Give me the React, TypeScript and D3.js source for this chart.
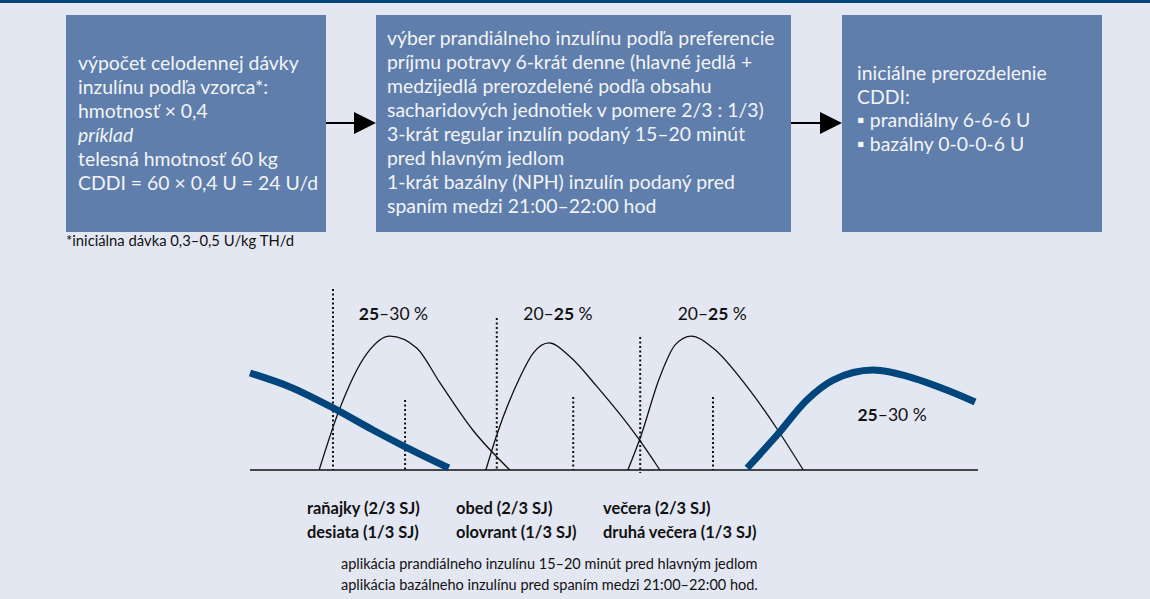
import React from "react";
import * as d3 from "d3";

// ---- data ----
const box1Lines = [
  { t: "výpočet celodennej dávky", i: false },
  { t: "inzulínu podľa vzorca*:", i: false },
  { t: "hmotnosť × 0,4", i: false },
  { t: "príklad", i: true },
  { t: "telesná hmotnosť 60 kg", i: false },
  { t: "CDDI = 60 × 0,4 U = 24 U/d", i: false },
];
const box2Lines = [
  "výber prandiálneho inzulínu podľa preferencie",
  "príjmu potravy 6-krát denne (hlavné jedlá +",
  "medzijedlá prerozdelené podľa obsahu",
  "sacharidových jednotiek v pomere 2/3 : 1/3)",
  "3-krát regular inzulín podaný 15–20 minút",
  "pred hlavným jedlom",
  "1-krát bazálny (NPH) inzulín podaný pred",
  "spaním medzi 21:00–22:00 hod",
];
const box3Lines = ["iniciálne prerozdelenie", "CDDI:", "▪ prandiálny 6-6-6 U", "▪ bazálny 0-0-0-6 U"];
const footnote = "*iniciálna dávka 0,3–0,5 U/kg TH/d";

// prandial insulin action curves (x: time units 0-100, y: effect 0-100)
const prandial1: [number, number][] = [[9.5, 0], [12.1, 31.5], [16.1, 64.6], [19.2, 74.0], [22.9, 67.4], [26.1, 48.1], [30.6, 22.1], [35.7, 0]];
const prandial2: [number, number][] = [[32.4, 0], [33.9, 19.3], [37.1, 51.4], [38.9, 64.6], [41.1, 70.2], [44.0, 62.4], [47.7, 45.9], [53.3, 17.7], [56.3, 0]];
const prandial3: [number, number][] = [[51.9, 0], [53.6, 17.7], [56.3, 51.4], [58.4, 69.1], [60.6, 74.0], [63.6, 67.4], [68.3, 45.9], [72.5, 22.1], [76.0, 0]];
// basal insulin curves
const basalMorning: [number, number][] = [[0, 53.6], [5.5, 45.9], [11.4, 34.3], [16.9, 22.1], [21.6, 12.2], [27.3, 1.1]];
const basalNight: [number, number][] = [[68.3, 1.1], [72.4, 19.3], [76.5, 38.7], [80.1, 49.7], [85.6, 55.2], [91.1, 50.8], [95.7, 44.2], [99.6, 37.6]];
// dotted markers: x, top, bottom
const mealMarkers: [number, number, number][] = [[11.4, 100, 0], [21.3, 38.7, 0], [33.9, 84.0, 0], [44.4, 40.3, 0], [53.6, 73.5, -1.7], [63.6, 40.3, 0]];
// percentage labels
const pctLabels = [
  { x: 19.7, y: 86.2, bold: "25", rest: "–30 %", boldFirst: true },
  { x: 42.3, y: 86.2, bold: "25", rest: "20–", boldFirst: false },
  { x: 63.5, y: 86.2, bold: "25", rest: "20–", boldFirst: false },
  { x: 88.2, y: 30.4, bold: "25", rest: "–30 %", boldFirst: true },
];
const mealLabels = [
  ["raňajky (2/3 SJ)", "desiata (1/3 SJ)"],
  ["obed (2/3 SJ)", "olovrant (1/3 SJ)"],
  ["večera (2/3 SJ)", "druhá večera (1/3 SJ)"],
];
const notes = [
  "aplikácia prandiálneho inzulínu 15–20 minút pred hlavným jedlom",
  "aplikácia bazálneho inzulínu pred spaním medzi 21:00–22:00 hod.",
];

const W = 1150;
const H = 599;
const FONT = "Lato, 'Noto Sans', sans-serif";
const BG = "#e3e7f2";
const BOX = "#5f7eab";
const DARK = "#00467c";

export default function App() {
  const x = d3.scaleLinear().domain([0, 100]).range([250, 978]);
  const y = d3.scaleLinear().domain([0, 100]).range([470, 289]);
  const line = d3
    .line<[number, number]>()
    .x((d) => x(d[0]))
    .y((d) => y(d[1]))
    .curve(d3.curveMonotoneX);

  const mealX = [307, 456, 603];

  return (
    <svg width={W} height={H} style={{ position: "absolute", left: 0, top: 0, display: "block" }} fontFamily={FONT}>
      <rect x={0} y={0} width={W} height={H} fill={BG} />
      <rect x={0} y={0} width={W} height={3} fill={DARK} />

      {/* boxes */}
      <rect x={66} y={15} width={260} height={217} fill={BOX} />
      <rect x={376} y={15} width={415} height={217} fill={BOX} />
      <rect x={842} y={15} width={260} height={217} fill={BOX} />

      {/* arrows */}
      <line x1={326} x2={356} y1={123} y2={123} stroke="#000" strokeWidth={2} />
      <path d="M354,112 L376,123 L354,134 Z" fill="#000" />
      <line x1={791} x2={822} y1={123} y2={123} stroke="#000" strokeWidth={2} />
      <path d="M820,112 L842,123 L820,134 Z" fill="#000" />

      <g fill="#f2f4f8" fontSize={19.4}>
        {box1Lines.map((l, i) => (
          <text key={i} x={78} y={70 + i * 24} fontStyle={l.i ? "italic" : "normal"}>
            {l.t}
          </text>
        ))}
        {box2Lines.map((l, i) => (
          <text key={i} x={387} y={45 + i * 24}>
            {l}
          </text>
        ))}
        {box3Lines.map((l, i) => (
          <text key={i} x={857} y={80 + i * 23.5}>
            {l}
          </text>
        ))}
      </g>
      <text x={66} y={246} fontSize={14.8} fill="#111">
        {footnote}
      </text>

      {/* chart */}
      <line x1={x(0)} x2={x(100)} y1={y(0)} y2={y(0)} stroke="#111" strokeWidth={1.5} />
      {mealMarkers.map((m, i) => (
        <line key={i} x1={x(m[0])} x2={x(m[0])} y1={y(m[1])} y2={y(m[2])} stroke="#111" strokeWidth={2} strokeDasharray="2 2.5" />
      ))}
      {[prandial1, prandial2, prandial3].map((c, i) => (
        <path key={i} d={line(c) || ""} fill="none" stroke="#111" strokeWidth={1.3} />
      ))}
      {[basalMorning, basalNight].map((c, i) => (
        <path key={i} d={line(c) || ""} fill="none" stroke={DARK} strokeWidth={7} />
      ))}
      {pctLabels.map((p, i) => (
        <text key={i} x={x(p.x)} y={y(p.y) + 6.5} fontSize={17.5} fill="#111" textAnchor="middle">
          {p.boldFirst ? (
            <>
              <tspan fontWeight="bold">{p.bold}</tspan>
              <tspan>{p.rest}</tspan>
            </>
          ) : (
            <>
              <tspan>{p.rest}</tspan>
              <tspan fontWeight="bold">{p.bold}</tspan>
              <tspan> %</tspan>
            </>
          )}
        </text>
      ))}

      {mealLabels.map((pair, i) =>
        pair.map((t, j) => (
          <text key={i + "-" + j} x={mealX[i]} y={514 + j * 24} fontSize={16.4} fontWeight="bold" fill="#111">
            {t}
          </text>
        ))
      )}
      {notes.map((t, i) => (
        <text key={i} x={341} y={569 + i * 21} fontSize={14.5} fill="#111">
          {t}
        </text>
      ))}
    </svg>
  );
}
